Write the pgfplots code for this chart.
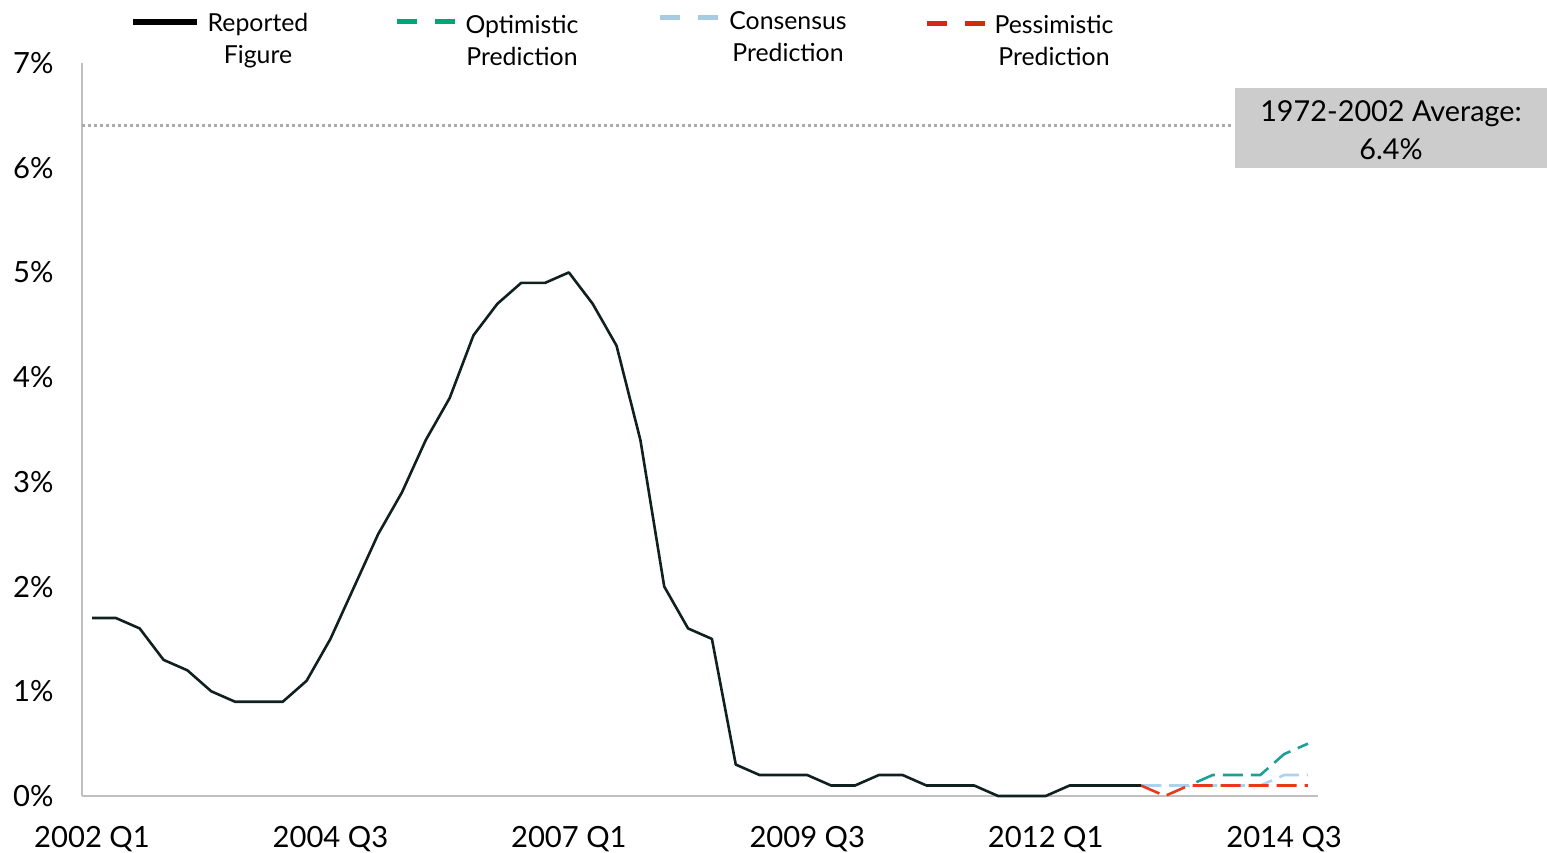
\documentclass[border=0pt]{standalone}
\usepackage{fontspec}
\setmainfont{Lato}
\usepackage{pgfplots}
\pgfplotsset{compat=1.18}
\definecolor{repc}{HTML}{10201F}
\definecolor{optc}{HTML}{1E9E98}
\definecolor{optleg}{HTML}{00A57A}
\definecolor{conc}{HTML}{A9D3F0}
\definecolor{conleg}{HTML}{A6CBE3}
\definecolor{pesc}{HTML}{E83A1A}
\definecolor{pesleg}{HTML}{D42A10}
\definecolor{axc}{HTML}{BFBFBF}
\definecolor{dotc}{HTML}{ABABAB}
\definecolor{boxc}{HTML}{CCCCCC}
\begin{document}
\begin{tikzpicture}
\useasboundingbox (0,0) rectangle (386.75pt,-213.25pt);
\begin{axis}[
  at={(20.5pt,-199pt)}, anchor=south west,
  scale only axis, width=309pt, height=183.25pt,
  xmin=-0.42, xmax=51.42, ymin=0, ymax=7,
  axis x line=bottom, axis y line=left,
  axis line style={axc, line width=0.5pt, -},
  major tick length=0pt,
  xtick={0,10,20,30,40,50},
  xticklabels={2002 Q1,2004 Q3,2007 Q1,2009 Q3,2012 Q1,2014 Q3},
  ytick={0,1,...,7},
  yticklabel={\pgfmathprintnumber{\tick}\%},
  /pgf/number format/assume math mode=true,
  tick label style={font=\fontsize{7.3}{9}\selectfont, text=black},
  yticklabel style={xshift=-3.6pt},
  xticklabel style={yshift=-4pt},
  clip=false,
]
\addplot[dotc, line width=0.8pt, dash pattern=on 0.75pt off 0.75pt] coordinates {(-0.42,6.4) (47.8,6.4)};
\addplot[optc, line width=0.65pt, dash pattern=on 5pt off 2pt] coordinates {
(44,0.1)(45,0.1)(46,0.1)(47,0.2)(48,0.2)(49,0.2)(50,0.4)(51,0.5)};
\addplot[conc, line width=0.65pt, dash pattern=on 5pt off 2pt] coordinates {
(44,0.1)(45,0.1)(46,0.1)(47,0.1)(48,0.1)(49,0.1)(50,0.2)(51,0.2)};
\addplot[pesc, line width=0.65pt, dash pattern=on 5pt off 2pt] coordinates {
(44,0.1)(45,0.0)(46,0.1)(47,0.1)(48,0.1)(49,0.1)(50,0.1)(51,0.1)};
\addplot[repc, line width=0.65pt, line join=round] coordinates {
(0,1.7)(1,1.7)(2,1.6)(3,1.3)(4,1.2)(5,1.0)(6,0.9)(7,0.9)(8,0.9)(9,1.1)
(10,1.5)(11,2.0)(12,2.5)(13,2.9)(14,3.4)(15,3.8)(16,4.4)(17,4.7)(18,4.9)(19,4.9)
(20,5.0)(21,4.7)(22,4.3)(23,3.4)(24,2.0)(25,1.6)(26,1.5)(27,0.3)(28,0.2)(29,0.2)
(30,0.2)(31,0.1)(32,0.1)(33,0.2)(34,0.2)(35,0.1)(36,0.1)(37,0.1)(38,0.0)(39,0.0)
(40,0.0)(41,0.1)(42,0.1)(43,0.1)(44,0.1)};
\end{axis}
\begin{scope}[x=0.25pt, y=-0.25pt]
  \fill[boxc] (1235,88) rectangle (1547,168);
  \node[align=center, font=\fontsize{7.2}{9.5}\selectfont, inner sep=0pt] at (1391,130) {1972-2002 Average:\\6.4\%};
  % legend
  \draw[black, line width=1.4pt] (133,22) -- (197,22);
  \node[align=center, font=\fontsize{6.2}{8}\selectfont, inner sep=0pt] at (258,41) {Reported\\Figure};
  \draw[optleg, line width=1.25pt] (397,22) -- (417,22) (435,22) -- (455,22);
  \node[align=center, font=\fontsize{6.2}{8}\selectfont, inner sep=0pt] at (522,41) {Optimistic\\Prediction};
  \draw[conleg, line width=1.25pt] (660,18) -- (680,18) (698,18) -- (718,18);
  \node[align=center, font=\fontsize{6.2}{8}\selectfont, inner sep=0pt] at (788,37) {Consensus\\Prediction};
  \draw[pesleg, line width=1.25pt] (927,24) -- (947,24) (965,24) -- (985,24);
  \node[align=center, font=\fontsize{6.2}{8}\selectfont, inner sep=0pt] at (1054,41) {Pessimistic\\Prediction};
\end{scope}
\end{tikzpicture}
\end{document}
